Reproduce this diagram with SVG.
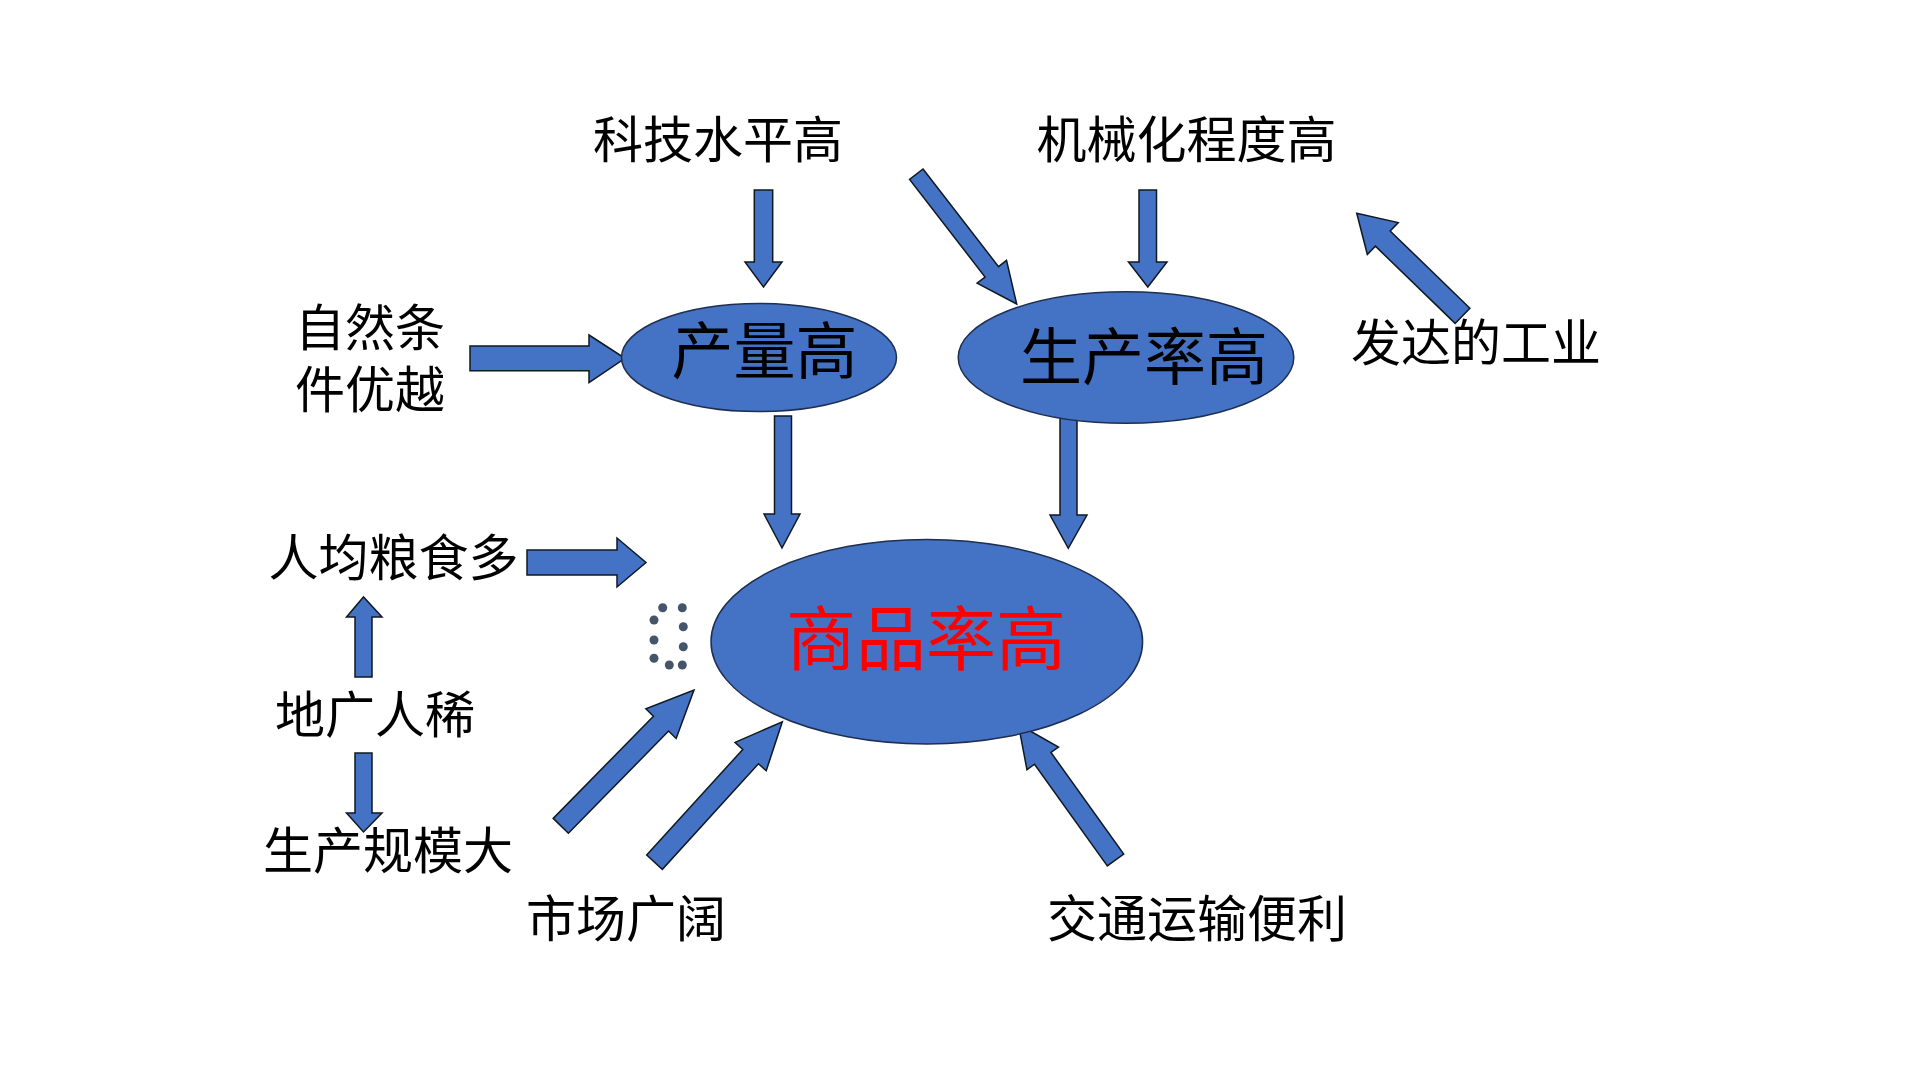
<svg xmlns="http://www.w3.org/2000/svg" width="1920" height="1080" viewBox="0 0 1920 1080">
<style>
.t{font-family:"Noto Sans CJK SC","Noto Sans CJK JP",sans-serif;font-size:50px;fill:#000;text-anchor:middle;dominant-baseline:central}
.big{font-size:62px}
.red{font-size:70px;fill:#FF0000}
.ell{fill:#4472C4;stroke:#1F2F50;stroke-width:1.5}
.arr{fill:#4472C4;stroke:#101820;stroke-width:1.5;stroke-linejoin:miter}
.dot{fill:#44546A}
</style>
<rect width="1920" height="1080" fill="#fff"/>
<g id="connectors">
<polygon class="arr" points="754.3,190 772.7,190 772.7,262 782,262 763.5,287 745,262 754.3,262"/>
<polygon class="arr" points="1139,190 1156.5,190 1156.5,262 1167,262 1147.8,287 1128.5,262 1139,262"/>
<polygon class="arr" points="774.5,416 791.5,416 791.5,514 800,514 782,548 764,514 774.5,514"/>
<polygon class="arr" points="1060,417 1077,417 1077,515 1087,515 1068.3,548.3 1050,515 1060,515"/>
<polygon class="arr" points="355,677 372,677 372,617 382,617 363.5,597 346.5,617 355,617"/>
<polygon class="arr" points="355,753 372,753 372,813 382,813 363.5,832 346.5,813 355,813"/>
<polygon class="arr" points="470,346 589,346 589,335 625,358.3 589,382.7 589,370.7 470,370.7"/>
<polygon class="arr" points="527,550 617,550 617,538 646,562.5 617,587 617,575 527,575"/>
<polygon class="arr" transform="translate(916.3,174.2) rotate(52.28)" points="0,-8.5 123.4,-8.5 123.4,-18.6 164.1,0 123.4,18.6 123.4,8.5 0,8.5"/>
<polygon class="arr" transform="translate(1462.5,315.8) rotate(-135.9)" points="0,-10.6 111,-10.6 111,-22.2 147.3,0 111,22.2 111,10.6 0,10.6"/>
<polygon class="arr" transform="translate(560.8,825.8) rotate(-45.55)" points="0,-10.6 143.1,-10.6 143.1,-21.2 190.2,0 143.1,21.2 143.1,10.6 0,10.6"/>
<polygon class="arr" transform="translate(654.5,862.2) rotate(-47.7)" points="0,-10.6 142.8,-10.6 142.8,-21.1 189.9,0 142.8,21.1 142.8,10.6 0,10.6"/>
<polygon class="arr" transform="translate(1115.5,860) rotate(-125.6)" points="0,-10.1 125,-10.1 125,-19.4 166.9,0 125,19.4 125,10.1 0,10.1"/>
</g>
<g id="node-keji"><text class="t" x="718" y="136">科技水平高</text></g>
<g id="node-jixie"><text class="t" x="1186.5" y="136">机械化程度高</text></g>
<g id="node-ziran"><text class="t" x="370" y="324">自然条</text><text class="t" x="370" y="386">件优越</text></g>
<g id="node-gongye"><text class="t" x="1476" y="339">发达的工业</text></g>
<g id="node-renjun"><text class="t" x="393.5" y="554">人均粮食多</text></g>
<g id="node-diguang"><text class="t" x="375" y="711">地广人稀</text></g>
<g id="node-guimo"><text class="t" x="388" y="847">生产规模大</text></g>
<g id="node-shichang"><text class="t" x="626" y="915">市场广阔</text></g>
<g id="node-jiaotong"><text class="t" x="1197" y="915">交通运输便利</text></g>
<g id="node-chanliang"><ellipse class="ell" cx="759" cy="357.5" rx="137.5" ry="54"/><text class="t big" x="764.5" y="347">产量高</text></g>
<g id="node-shengchanlv"><ellipse class="ell" cx="1126" cy="357.5" rx="167.8" ry="65.8"/><text class="t big" x="1144" y="353">生产率高</text></g>
<g id="node-shangpin"><ellipse class="ell" cx="926.8" cy="641.7" rx="215.8" ry="102.3"/><text class="t red" x="926" y="634">商品率高</text></g>
<g id="dots">
<circle class="dot" cx="662.7" cy="607.7" r="4.5"/>
<circle class="dot" cx="682.3" cy="607.7" r="4.5"/>
<circle class="dot" cx="654" cy="620" r="4.5"/>
<circle class="dot" cx="683.3" cy="626.7" r="4.5"/>
<circle class="dot" cx="654" cy="640" r="4.5"/>
<circle class="dot" cx="683.3" cy="646.7" r="4.5"/>
<circle class="dot" cx="654" cy="658.3" r="4.5"/>
<circle class="dot" cx="669.3" cy="665" r="4.5"/>
<circle class="dot" cx="682.3" cy="665" r="4.5"/>
</g>
</svg>
